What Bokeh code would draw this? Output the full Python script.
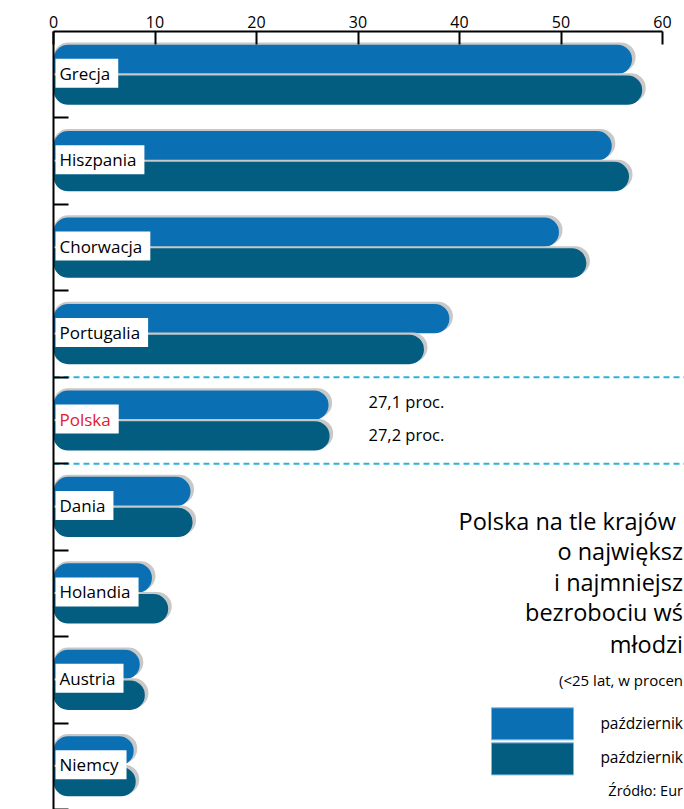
from bokeh.plotting import figure
from bokeh.models import Range1d, FixedTicker, Span, Label, ColumnDataSource
from bokeh.embed import file_html
from bokeh.resources import INLINE

# ---- data ----
countries = ["Grecja", "Hiszpania", "Chorwacja", "Portugalia", "Polska",
             "Dania", "Holandia", "Austria", "Niemcy"]
oct_2012 = [57.0, 55.0, 49.8, 39.0, 27.1, 13.5, 9.7, 8.5, 7.9]
oct_2013 = [58.0, 56.7, 52.5, 36.5, 27.2, 13.7, 11.3, 9.0, 8.1]
x_ticks = [0, 10, 20, 30, 40, 50, 60]
highlight = "Polska"
# texts as visible in the (cropped) reference
series_names = ["październik", "październik"]
title_lines = ["Polska na tle krajów", "o największ", "i najmniejsz",
               "bezrobociu wś", "młodzi"]
subtitle = "(<25 lat, w procen"
source_note = "Źródło: Eur"

FONT = "Open Sans"
C_TOP = "#0b6fb4"
C_BOT = "#025d80"
C_SHADOW = "#c8c8c8"

n = len(countries)
pos = [n - 1 - i for i in range(n)]

W, H = 684, 809
LEFT, TOP = 53, 31
frame_w = W - LEFT
x_end = frame_w / 10.15

p = figure(width=W, height=H, x_range=Range1d(0, x_end), y_range=Range1d(-0.5, n - 0.5),
           x_axis_location="above", output_backend="svg", toolbar_location=None,
           min_border_left=LEFT, min_border_right=0, min_border_top=TOP, min_border_bottom=0)
p.outline_line_color = None
p.grid.visible = False

# page px -> data helpers for decorations
def px2x(px):
    return (px - LEFT) / 10.15

def py2y(py):
    return (n - 0.5) - (py - TOP) / 86.4

RIGHT_EDGE = px2x(682.5)

xa = p.xaxis[0]
xa.ticker = FixedTicker(ticks=x_ticks)
xa.bounds = (0, 60)
xa.major_tick_in = 13
xa.major_tick_out = 0
xa.minor_tick_in = 0
xa.minor_tick_out = 0
xa.axis_line_width = 2
xa.major_tick_line_width = 2
xa.major_label_standoff = 4
xa.major_label_text_font = FONT
xa.major_label_text_font_size = "16px"
xa.major_label_text_color = "black"

ya = p.yaxis[0]
ya.ticker = FixedTicker(ticks=[], minor_ticks=[k - 0.5 for k in range(n)])
ya.major_tick_in = 0
ya.major_tick_out = 0
ya.minor_tick_in = 15
ya.minor_tick_out = 0
ya.minor_tick_line_width = 2
ya.minor_tick_line_color = "black"
ya.axis_line_width = 2

# separators around highlighted country
hi = pos[countries.index(highlight)]
for loc in (hi + 0.5, hi - 0.5):
    p.add_layout(Span(location=loc, dimension="width", line_color="#2ab3d9",
                      line_width=2, line_dash="6 4", level="underlay"))

HB = 0.34
OFF = 0.178
SH_UP = 0.025
SH_R = 0.35
src = ColumnDataSource(dict(
    y_top=[v + OFF for v in pos], y_bot=[v - OFF for v in pos],
    y_top_sh=[v + OFF + SH_UP for v in pos], y_bot_sh=[v - OFF + SH_UP for v in pos],
    v12=oct_2012, v13=oct_2013,
    v12_sh=[v + SH_R for v in oct_2012], v13_sh=[v + SH_R for v in oct_2013],
))
r_top = dict(top_left=15, top_right=15, bottom_right=15, bottom_left=0)
r_bot = dict(top_left=0, top_right=15, bottom_right=15, bottom_left=15)

p.hbar(y="y_top_sh", left=0, right="v12_sh", height=HB, source=src,
       fill_color=C_SHADOW, line_color=None, border_radius=r_top)
p.hbar(y="y_top", left=0, right="v12", height=HB, source=src,
       fill_color=C_TOP, line_color=None, border_radius=r_top)
p.hbar(y="y_bot_sh", left=0, right="v13_sh", height=HB, source=src,
       fill_color=C_SHADOW, line_color=None, border_radius=r_bot)
p.hbar(y="y_bot", left=0, right="v13", height=HB, source=src,
       fill_color=C_BOT, line_color=None, border_radius=r_bot)

# country labels
for c, y in zip(countries, pos):
    p.add_layout(Label(x=0, y=y, x_offset=2, y_offset=1.5, text=c,
                       text_font=FONT, text_font_size="17px",
                       text_color="#e2202e" if c == highlight else "black",
                       text_baseline="middle", text_align="left",
                       background_fill_color="white",
                       padding=dict(left=4, right=8, top=3, bottom=3)))

# values of highlighted country
i_hi = countries.index(highlight)
for val, yy, dy in ((oct_2012[i_hi], hi + OFF, 4), (oct_2013[i_hi], hi - OFF, 1)):
    p.add_layout(Label(x=px2x(368), y=yy, y_offset=dy,
                       text=f"{val:.1f}".replace(".", ",") + " proc.",
                       text_font=FONT, text_font_size="16.5px", text_color="black",
                       text_baseline="middle", text_align="left"))

# "kraj"
p.add_layout(Label(x=px2x(41), y=py2y(37), text="kraj", text_font=FONT,
                   text_font_size="14px", text_color="black",
                   text_baseline="middle", text_align="right"))

# title block (first line full, the rest run off the right edge in the reference)
title_y = [520, 550, 581, 611, 643]
p.add_layout(Label(x=px2x(458), y=py2y(title_y[0]), text=title_lines[0], text_font=FONT,
                   text_font_size="23.5px", text_color="black",
                   text_baseline="middle", text_align="left"))
for t, ty in zip(title_lines[1:], title_y[1:]):
    p.add_layout(Label(x=RIGHT_EDGE, y=py2y(ty), text=t, text_font=FONT,
                       text_font_size="23.5px", text_color="black",
                       text_baseline="middle", text_align="right"))
p.add_layout(Label(x=RIGHT_EDGE, y=py2y(679), text=subtitle, text_font=FONT,
                   text_font_size="15px", text_color="black",
                   text_baseline="middle", text_align="right"))

# legend boxes
p.quad(left=[px2x(491)] * 2, right=[px2x(573)] * 2,
       top=[py2y(707), py2y(742)], bottom=[py2y(739), py2y(774)],
       fill_color=[C_TOP, C_BOT], line_color="#7fb4da", line_width=1)
for name, ty in zip(series_names, (722, 756)):
    p.add_layout(Label(x=RIGHT_EDGE, y=py2y(ty), text=name, text_font=FONT,
                       text_font_size="15.5px", text_color="black",
                       text_baseline="middle", text_align="right"))
p.add_layout(Label(x=RIGHT_EDGE, y=py2y(790), text=source_note, text_font=FONT,
                   text_font_size="14.5px", text_color="black",
                   text_baseline="middle", text_align="right"))

open("out.html", "w").write(file_html(p, INLINE))
